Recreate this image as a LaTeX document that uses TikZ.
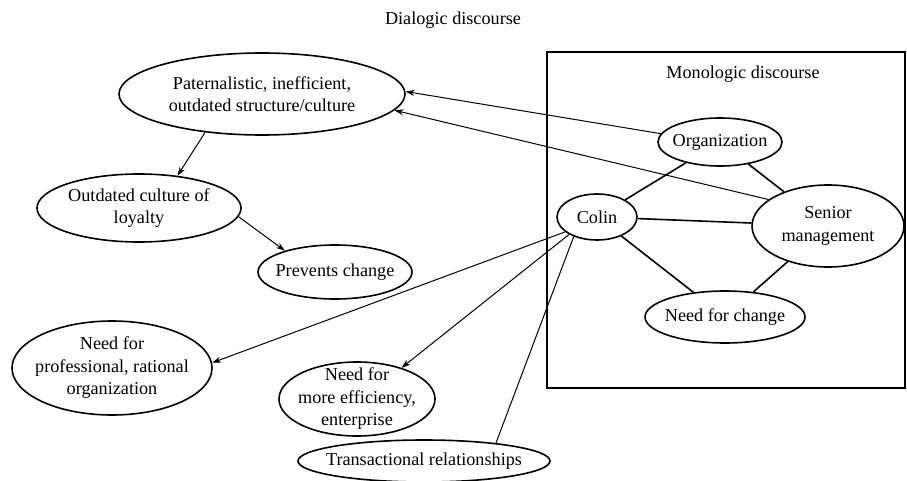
\documentclass[tikz,border=0pt]{standalone}
\usepackage{fontspec}
\setmainfont{Liberation Serif}
\usetikzlibrary{shapes.geometric,arrows.meta}
\newcommand\ellnode[5]{%
  \node[ell,minimum width=#3,minimum height=#4] (#1) at #2 {};
  \node[txt] (#1-t) at (#1) {#5};}
\begin{document}
\begin{tikzpicture}[x=1pt,y=-1pt,
  every node/.style={font=\fontsize{18.2}{22.5}\selectfont},
  ell/.style={ellipse,draw,line width=1.6pt,inner sep=0pt},
  txt/.style={align=center,inner sep=0pt},
  arr/.style={line width=1pt,-{Stealth[length=9pt,width=6pt]}},
  link/.style={line width=1.6pt},
  thin/.style={line width=1pt}]
\useasboundingbox (0,0) rectangle (907,481);
\node (title) at (453,20) {Dialogic discourse};
\draw[line width=1.4pt] (547,52) rectangle (905,388);
\node (mono) at (743,74) {Monologic discourse};
\ellnode{pat}{(262,94)}{286pt}{82pt}{Paternalistic, inefficient,\\outdated structure/culture}
\ellnode{out}{(139,208)}{204pt}{68pt}{Outdated culture of\\loyalty}
\ellnode{prev}{(335,272)}{154pt}{54pt}{Prevents change}
\ellnode{org}{(720,142)}{124pt}{48pt}{Organization}
\ellnode{colin}{(597,217)}{80pt}{46pt}{Colin}
\ellnode{sen}{(828,226)}{152pt}{82pt}{Senior\\management}
\ellnode{nfc}{(725,317)}{160pt}{52pt}{Need for change}
\ellnode{prof}{(112,368)}{200pt}{94pt}{Need for\\professional, rational\\organization}
\ellnode{eff}{(357,399)}{156pt}{74pt}{Need for\\more efficiency,\\enterprise}
\ellnode{trans}{(424,461)}{252pt}{42pt}{Transactional relationships}
% arrows
\draw[arr] (org.172) -- (pat.1);
\draw[arr] (sen.156) -- (pat.353);
\draw[arr] (pat.214) -- (out.40);
\draw[arr] (out.355) -- (prev.157);
\draw[arr] (colin.205) -- (prof.3);
\draw[arr] (colin.212) -- (eff.35);
\draw[thin] (colin.220) -- (trans.14);
% monologic links
\draw[link] (colin) -- (org);
\draw[link] (colin) -- (sen);
\draw[link] (colin) -- (nfc);
\draw[link] (org) -- (sen);
\draw[link] (sen) -- (nfc);
\end{tikzpicture}
\end{document}
